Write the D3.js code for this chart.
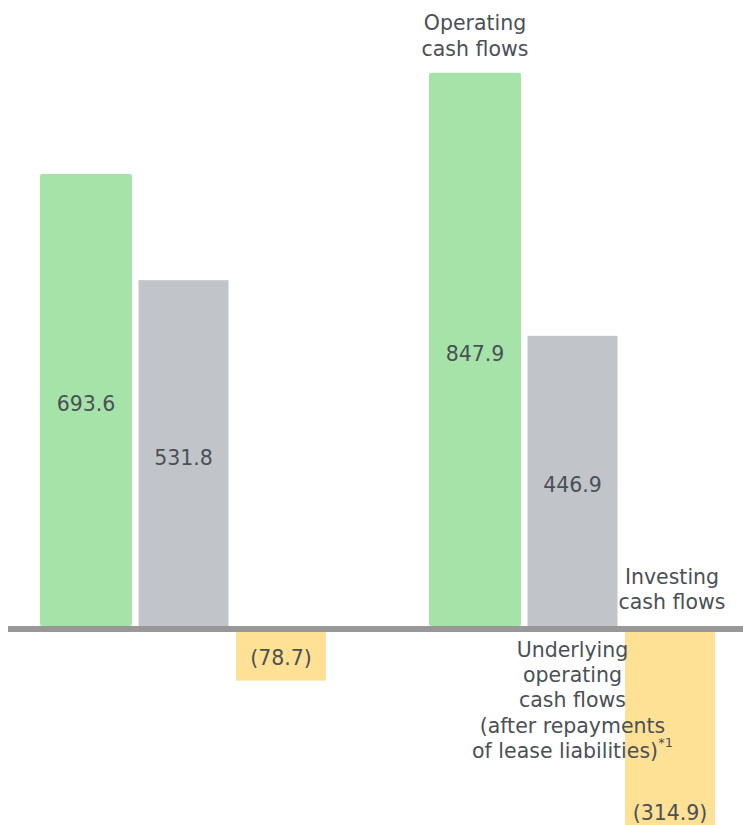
<!DOCTYPE html>
<html>
<head>
<meta charset="utf-8">
<script src="https://cdn.jsdelivr.net/npm/d3@7/dist/d3.min.js"></script>
<style>
  html, body { margin: 0; padding: 0; background: #fff; }
  svg { display: block; }
  text { font-family: "DejaVu Sans", Verdana, sans-serif; fill: #4b5056; }
</style>
</head>
<body>
<svg id="chart" width="743" height="825"></svg>
<script>
const periods = ["Period 1", "Period 2"];
const series = ["Operating cash flows", "Underlying operating cash flows", "Investing cash flows"];
const operating = [693.6, 847.9];
const underlying = [531.8, 446.9];
const investing = [-78.7, -314.9];
const valueLabels = [["693.6", "531.8", "(78.7)"], ["847.9", "446.9", "(314.9)"]];
const colors = ["#a5e3a9", "#c1c5c9", "#ffe196"];

const svg = d3.select("#chart");
const W = 743, H = 825;

const x0 = d3.scaleBand().domain(periods).range([41, 715]).paddingInner(104 / 389).paddingOuter(0);
const x1 = d3.scaleBand().domain(series).range([0, x0.bandwidth()]).paddingInner(7.5 / 97.5).paddingOuter(0);
const y = d3.scaleLinear().domain([-300, 900]).range([629 + 300 * 0.656, 629 - 900 * 0.656]);

const data = [];
periods.forEach((p, i) => {
  [operating[i], underlying[i], investing[i]].forEach((v, j) => {
    data.push({ period: p, s: series[j], v, j, label: valueLabels[i][j] });
  });
});

const g = svg.append("g");
g.selectAll("rect.bar").data(data).enter().append("rect")
  .attr("class", "bar")
  .attr("x", d => x0(d.period) + x1(d.s) - (d.j === 0 ? 1 : 0))
  .attr("width", d => x1.bandwidth() + (d.j === 0 ? 2 : 0))
  .attr("y", d => d.v >= 0 ? y(d.v) : y(0) + 3)
  .attr("height", d => d.v >= 0 ? y(0) - 3 - y(d.v) : y(d.v) - y(0) - 3)
  .attr("rx", d => d.j === 0 ? 2 : 0)
  .attr("fill", d => colors[d.j]);

// baseline
svg.append("line")
  .attr("x1", 8).attr("x2", W)
  .attr("y1", y(0)).attr("y2", y(0))
  .attr("stroke", "#989898").attr("stroke-width", 6);

// value labels
g.selectAll("text.val").data(data).enter().append("text")
  .attr("class", "val")
  .attr("x", d => x0(d.period) + x1(d.s) + x1.bandwidth() / 2)
  .attr("y", d => d.v >= 0 ? (y(d.v) + y(0)) / 2 + 3 : y(d.v) - 23)
  .attr("text-anchor", "middle")
  .attr("dominant-baseline", "central")
  .attr("font-size", 20.5)
  .text(d => d.label);

// category labels (group 2)
const p2 = periods[1];
function multi(lines, cx, cyFirst, lh) {
  const t = svg.append("text").attr("text-anchor", "middle").attr("font-size", 20.5);
  lines.forEach((ln, i) => {
    const ts = t.append("tspan").attr("x", cx).attr("y", cyFirst + i * lh).attr("dominant-baseline", "central");
    if (Array.isArray(ln)) {
      ts.text(ln[0]);
      ts.append("tspan").attr("font-size", 13).attr("dy", -8).text(ln[1]);
    } else ts.text(ln);
  });
}
const cOp = x0(p2) + x1(series[0]) + x1.bandwidth() / 2;
const cUn = x0(p2) + x1(series[1]) + x1.bandwidth() / 2;
const cIn = x0(p2) + x1(series[2]) + x1.bandwidth() / 2;
multi(["Operating", "cash flows"], cOp, y(operating[1]) - 50, 26);
multi(["Investing", "cash flows"], cIn + 2, y(0) - 52, 24.5);
multi(["Underlying", "operating", "cash flows", "(after repayments", ["of lease liabilities)", "*1"]], cUn, y(0) + 21, 25.2);
</script>
</body>
</html>
